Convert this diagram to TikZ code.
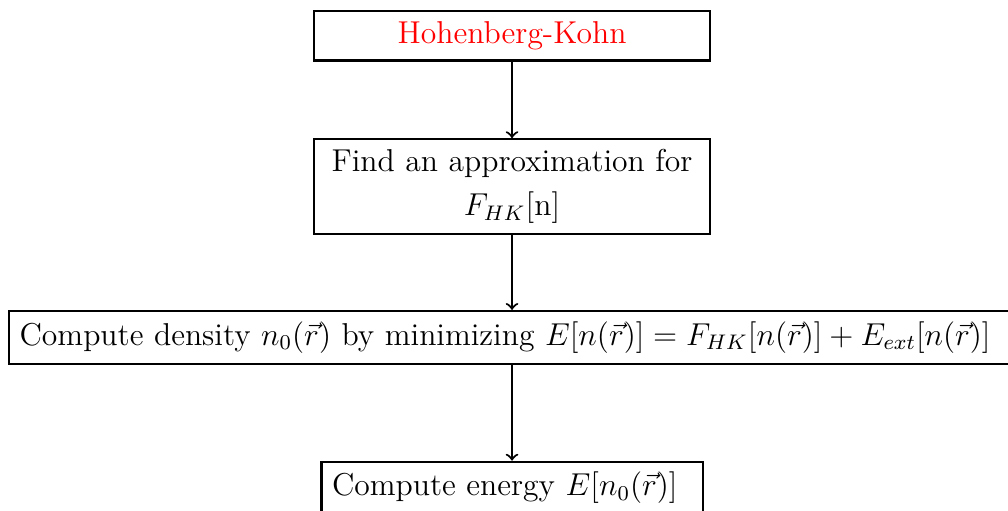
\documentclass[tikz,border=0pt,12pt]{standalone}
\usepackage{amsmath}
\usetikzlibrary{positioning}

\begin{document}
\begin{tikzpicture}
	\tikzset{block/.style={shape=rectangle, draw, thick, align=center}}
	\node[block, text width=5cm, text=red](HK) at (0, 0){Hohenberg-Kohn};
	\node[block, text width=5cm](FA) at (0, -2.01){Find an approximation for\\[2pt] $F_{HK}$[n]};
	\node[block, text width=13.3cm, align=left, anchor=west](CD) at (-6.72, -4.02){Compute density $n_0(\vec{r})$ by minimizing $E[n(\vec{r})]=F_{HK}[n(\vec{r})]+E_{ext}[n(\vec{r})]$};
	\node[block, text width=4.8cm, align=left](CE) at (0, -6.03){Compute energy $E[n_0(\vec{r})]$};
	\draw[thick, ->] (HK) -- (FA);
	\draw[thick, ->] (FA) -- (CD.north -| FA);
	\draw[thick, ->] (CD.south -| CE) -- (CE);
	% page cut as in the original
	\path (CD.west |- HK.north) ++(-0.107, 0.133) coordinate (TL);
	\pgfresetboundingbox
	\useasboundingbox (TL) rectangle ++(13.44, -6.81);
\end{tikzpicture}
\end{document}
